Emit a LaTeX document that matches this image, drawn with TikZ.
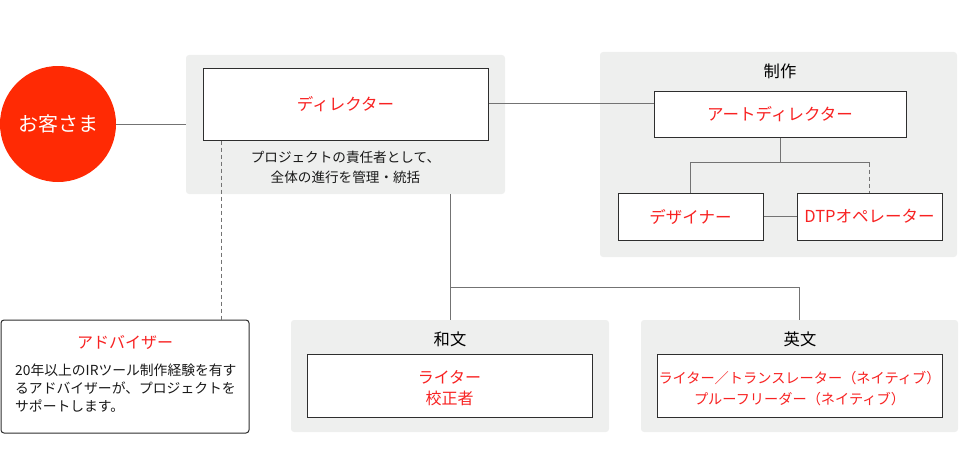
\documentclass[tikz,border=0pt]{standalone}
\usepackage{fontspec}
\setmainfont{Noto Sans CJK JP}
\definecolor{grpgray}{HTML}{EEEFEE}
\definecolor{lblred}{HTML}{F82222}
\definecolor{circred}{HTML}{FF2A04}
\definecolor{boxline}{HTML}{2E2E2E}
\definecolor{connline}{HTML}{737373}
\tikzset{
  grp/.style={rectangle, fill=grpgray, rounded corners=3pt, inner sep=0pt},
  wbox/.style={rectangle, draw=boxline, line width=1pt, fill=white, inner sep=0pt,
    text=lblred, font=\fontsize{16.5}{21}\selectfont, align=center},
  grplbl/.style={inner sep=0pt, text=black, font=\fontsize{16.3}{18}\selectfont},
  desc/.style={inner sep=0pt, text=black!90, font=\fontsize{13.6}{20}\selectfont},
  conn/.style={draw=connline, line width=0.8pt},
  dconn/.style={draw=connline, line width=0.8pt, dash pattern=on 4pt off 3pt},
}
\begin{document}
\begin{tikzpicture}[x=1pt,y=-1pt]
\useasboundingbox (0,0) rectangle (960,460);
% groups
\node[grp, minimum width=319pt, minimum height=139pt] (dirgrp) at (345.5,124.5) {};
\node[grp, minimum width=357pt, minimum height=205pt] (sgrp) at (778.5,154.5) {};
\node[grp, minimum width=318pt, minimum height=112pt] (wgrp) at (450,376) {};
\node[grp, minimum width=317pt, minimum height=112pt] (egrp) at (799.5,376) {};
% customer
\node[circle, fill=circred, minimum size=116pt, inner sep=0pt, text=white,
  font=\fontsize{20}{22}\selectfont] (cust) at (58,124) {お客さま};
% director
\node[wbox, minimum width=285pt, minimum height=72pt] (dir) at (345.5,104) {ディレクター};
\node[desc, align=center] (dirdesc) at (345.5,167) {プロジェクトの責任者として、\\全体の進行を管理・統括};
% production
\node[grplbl] (slbl) at (780,71) {制作};
\node[wbox, minimum width=252pt, minimum height=46pt] (ad) at (780,114) {アートディレクター};
\node[wbox, minimum width=145pt, minimum height=47pt] (des) at (690.5,216.5) {デザイナー};
\node[wbox, minimum width=145pt, minimum height=47pt] (dtp) at (869.5,216.5) {DTPオペレーター};
% wabun
\node[grplbl] (wlbl) at (450,339) {和文};
\node[wbox, minimum width=285pt, minimum height=63pt] (wbox) at (449.5,385.5) {};
\node[inner sep=0pt, text=lblred, font=\fontsize{16}{21}\selectfont, align=center] (wtxt) at (449.5,388.5) {ライター\\校正者};
% eibun
\node[grplbl] (elbl) at (800,339) {英文};
\node[wbox, minimum width=285pt, minimum height=63pt] (ebox) at (799.5,385.5) {};
\node[inner sep=0pt, text=lblred, font=\fontsize{14.2}{21}\selectfont, align=center] (etxt) at (799.5,388.5) {ライター／トランスレーター（ネイティブ）\\プルーフリーダー（ネイティブ）};
% advisor
\node[rectangle, draw=boxline, line width=1pt, fill=white, rounded corners=3pt,
  minimum width=248pt, minimum height=113pt, inner sep=0pt] (adv) at (125,376.5) {};
\node[inner sep=0pt, text=lblred, font=\fontsize{16}{18}\selectfont] (advlbl) at (125,342) {アドバイザー};
\node[inner sep=0pt, anchor=north west, align=left, text=black!90,
  font=\fontsize{13.8}{18}\selectfont] (advtxt) at (15,364) {20年以上のIRツール制作経験を有す\\るアドバイザーが、プロジェクトを\\サポートします。};
% connectors
\draw[conn] (cust.east) -- (cust.east -| dirgrp.west);
\draw[conn] ([yshift=1pt]dir.east) -- ([yshift=1pt]dir.east -| ad.west);
\draw[conn] (wgrp.north |- dirgrp.south) -- (wgrp.north);
\coordinate (jw) at ([yshift=32pt]wgrp.north);
\draw[conn] (jw) -| (egrp.north);
\draw[conn] (ad.south) -- ([yshift=-25pt]ad.south) coordinate (jc);
\draw[conn] (des.north) |- (jc) -- (jc -| dtp.north);
\draw[dconn] (jc -| dtp.north) -- (dtp.north);
\draw[conn] (des.east) -- (dtp.west);
\coordinate (dd) at ([xshift=19pt]dir.south west);
\draw[dconn] (dd) -- (dd |- adv.north);
\end{tikzpicture}
\end{document}
